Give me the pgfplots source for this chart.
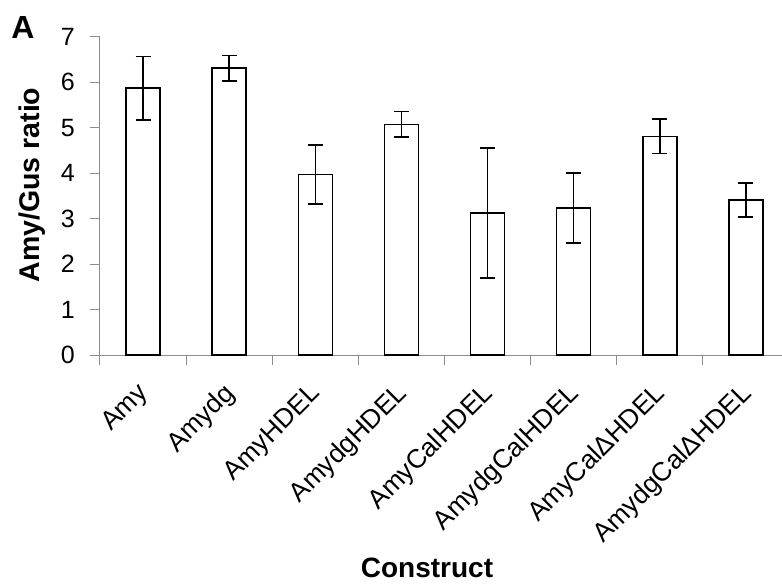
\documentclass[border=0pt]{standalone}
\usepackage{pgfplots}
\pgfplotsset{compat=1.18}
\usepackage{fontspec}
\setmainfont{Liberation Sans}
\begin{document}
\begin{tikzpicture}
\begin{axis}[
  scale only axis,
  width=689pt, height=318.3pt,
  xmin=-0.5, xmax=7.5, ymin=0, ymax=7,
  axis x line=bottom, axis y line=left,
  axis line style={-, draw=gray!90, line width=1pt},
  xtick={0,...,7},
  xticklabels={Amy,Amydg,AmyHDEL,AmydgHDEL,AmyCalHDEL,AmydgCalHDEL,AmyCalΔHDEL,AmydgCalΔHDEL},
  minor xtick={-0.5,0.5,...,7.5},
  major x tick style={draw=none},
  minor x tick style={draw=gray!90, line width=1pt},
  minor tick length=10pt,
  ytick={0,...,7},
  major y tick style={draw=gray!90, line width=1pt},
  major tick length=10pt,
  tick align=outside,
  /pgf/number format/assume math mode=true,
  yticklabel style={font=\fontsize{25}{29}\selectfont, anchor=east, inner sep=0pt, xshift=-15pt},
  xticklabel style={font=\fontsize{26.5}{30}\selectfont, inner sep=0pt, anchor=north east, xshift=-7pt, yshift=-16pt, rotate=45},
  xlabel={Construct},
  ylabel={Amy/Gus ratio},
  xlabel style={font=\bfseries\fontsize{28}{32}\selectfont, at={(axis description cs:0.4746,-0.669)}, anchor=center},
  ylabel style={font=\bfseries\fontsize{28.5}{32}\selectfont, at={(axis description cs:-0.0987,0.534)}, anchor=center},
  clip=false,
]
\addplot[ybar, bar width=34pt, fill=white, draw=black, line width=1.5pt,
  error bars/.cd, y dir=both, y explicit,
  error bar style={line width=1.5pt, black},
  error mark options={line width=1.5pt, black, mark size=7.5pt, rotate=90}]
  table[x=x, y=y, y error=e] {
x y e
0 5.87 0.70
1 6.31 0.28
2 3.97 0.65
3 5.07 0.28
4 3.12 1.43
5 3.23 0.77
6 4.81 0.38
7 3.41 0.37
};
\end{axis}
\node[font=\bfseries\fontsize{32}{36}\selectfont] at (-77pt,328pt) {A};
\pgfresetboundingbox
\path (-100pt,-229pt) rectangle (682pt,355pt);
\end{tikzpicture}
\end{document}
